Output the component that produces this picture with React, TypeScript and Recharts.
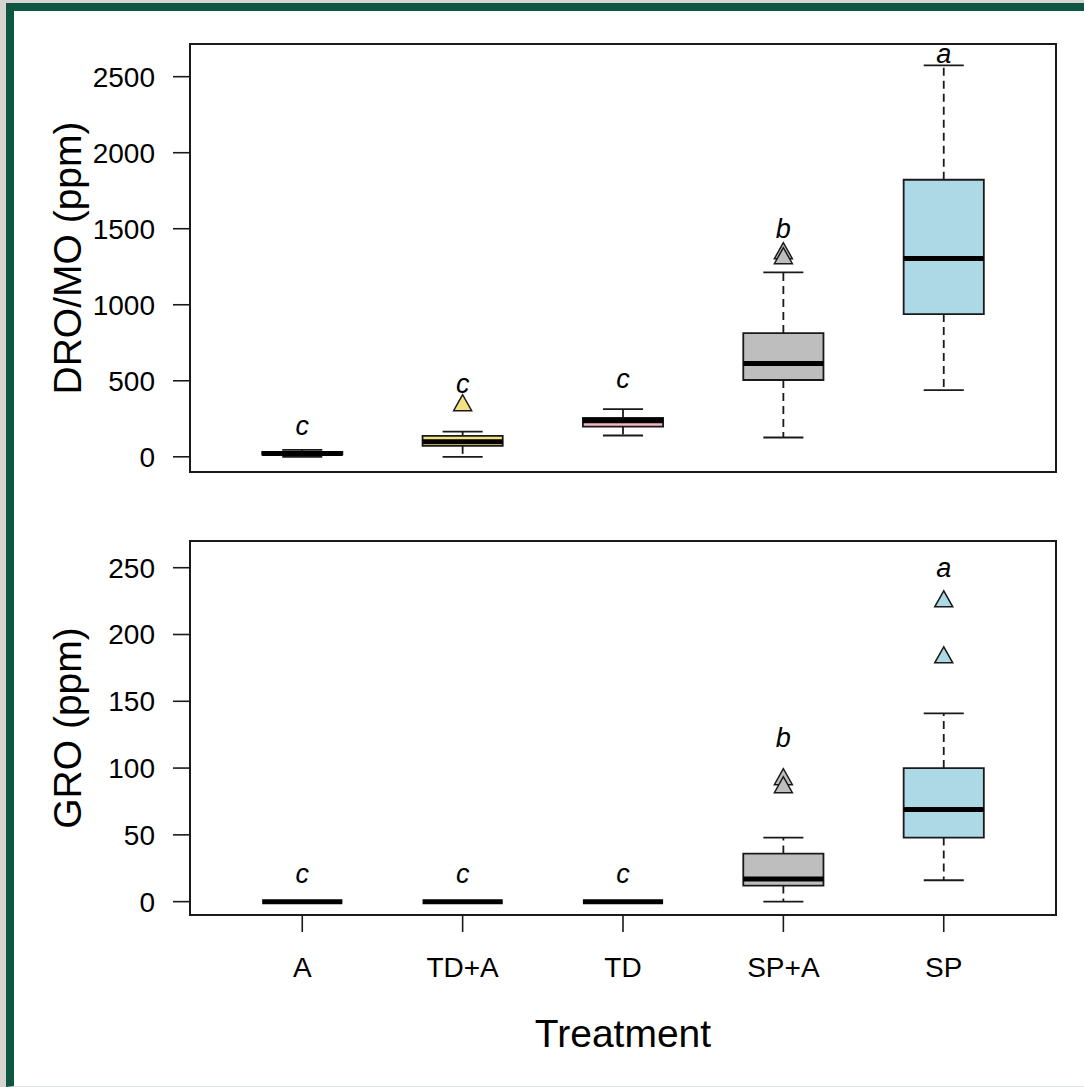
import {
  ComposedChart,
  XAxis,
  YAxis,
  Scatter,
  ReferenceArea,
  ReferenceLine,
} from "recharts";

// treatments, left to right
const categories = ["A", "TD+A", "TD", "SP+A", "SP"];

// DRO/MO (ppm) box statistics
const droMin = [0, 0, 140, 127, 439];
const droQ1 = [14, 72, 199, 505, 939];
const droMedian = [22, 99, 237, 614, 1305];
const droQ3 = [32, 138, 255, 814, 1822];
const droMax = [45, 166, 314, 1213, 2575];
const droOutlierGroups = ["TD+A", "SP+A", "SP+A"];
const droOutliers = [349, 1349, 1316];
const droLetters = ["c", "c", "c", "b", "a"];
const droLetterY = [145, 421, 454, 1441, 2590];

// GRO (ppm) box statistics
const groMin = [0, 0, 0, 0, 16];
const groQ1 = [0, 0, 0, 12, 48];
const groMedian = [0, 0, 0, 17, 69];
const groQ3 = [0, 0, 0, 36, 100];
const groMax = [0, 0, 0, 48, 141];
const groOutlierGroups = ["SP+A", "SP+A", "SP", "SP"];
const groOutliers = [92.8, 86.8, 226, 184];
const groLetters = ["c", "c", "c", "b", "a"];
const groLetterY = [14, 14, 14, 116, 243];

// box fill for each treatment
const FILLS: Record<string, string> = {
  A: "#B5D99C",
  "TD+A": "#F3E183",
  TD: "#F4B6C2",
  "SP+A": "#BEBEBE",
  SP: "#ADD8E6",
};

const FONT = "'Liberation Sans', Arial, sans-serif";
const INK = "#1a1a1a";
const BOX_HALF = 0.25;
const CAP_HALF = 0.125;

type Stats = {
  min: number[];
  q1: number[];
  median: number[];
  q3: number[];
  max: number[];
};

const TriangleDot = (props: any) => {
  const { cx, cy, payload } = props;
  if (cx == null || cy == null) return null;
  const pts = `${cx},${cy - 9} ${cx - 9},${cy + 7} ${cx + 9},${cy + 7}`;
  return (
    <polygon
      points={pts}
      fill={FILLS[payload.cat]}
      stroke={INK}
      strokeWidth={1.5}
    />
  );
};

const LetterDot = (props: any) => {
  const { cx, cy, payload } = props;
  if (cx == null || cy == null) return null;
  return (
    <text
      x={cx}
      y={cy}
      textAnchor="middle"
      fontSize={27}
      fontStyle="italic"
      fontFamily={FONT}
      fill="#000"
    >
      {payload.label}
    </text>
  );
};

type PanelProps = {
  height: number;
  margin: { top: number; right: number; bottom: number; left: number };
  yDomain: [number, number];
  yTicks: number[];
  yLabel: string;
  stats: Stats;
  outlierGroups: string[];
  outliers: number[];
  letters: string[];
  letterY: number[];
  showXAxis: boolean;
};

const BoxPanel = ({
  height,
  margin,
  yDomain,
  yTicks,
  yLabel,
  stats,
  outlierGroups,
  outliers,
  letters,
  letterY,
  showXAxis,
}: PanelProps) => {
  const outlierData = outliers.map((v, i) => ({
    x: categories.indexOf(outlierGroups[i]) + 1,
    y: v,
    cat: outlierGroups[i],
  }));
  const letterData = letters.map((l, i) => ({
    x: i + 1,
    y: letterY[i],
    label: l,
  }));

  return (
    <ComposedChart width={1084} height={height} margin={margin}>
      <XAxis
        type="number"
        dataKey="x"
        domain={[0.3, 5.7]}
        ticks={[1, 2, 3, 4, 5]}
        interval={0}
        allowDataOverflow
        hide={!showXAxis}
        height={140}
        axisLine={false}
        tickLine={{ stroke: INK, strokeWidth: 1.6 }}
        tickSize={17}
        tickMargin={25}
        tick={{ fontSize: 28, fill: "#000", fontFamily: FONT }}
        tickFormatter={(v: number) => categories[v - 1] ?? ""}
        label={{
          value: "Treatment",
          position: "insideBottom",
          offset: 8,
          style: { fontSize: 39, fill: "#000", fontFamily: FONT },
        }}
      />
      <YAxis
        type="number"
        dataKey="y"
        domain={yDomain}
        ticks={yTicks}
        interval={0}
        allowDataOverflow
        width={120}
        axisLine={false}
        tickLine={{ stroke: INK, strokeWidth: 1.6 }}
        tickSize={17}
        tickMargin={18}
        tick={{ fontSize: 28, fill: "#000", fontFamily: FONT }}
        label={{
          value: yLabel,
          angle: -90,
          position: "insideLeft",
          offset: -3,
          style: {
            textAnchor: "middle",
            fontSize: 39,
            fill: "#000",
            fontFamily: FONT,
          },
        }}
      />

      {/* plot frame */}
      <ReferenceArea
        x1={0.3}
        x2={5.7}
        y1={yDomain[0]}
        y2={yDomain[1]}
        fill="none"
        fillOpacity={0}
        stroke={INK}
        strokeWidth={2}
      />

      {categories.map((c, i) => (
        <ReferenceArea
          key={`box-${c}`}
          x1={i + 1 - BOX_HALF}
          x2={i + 1 + BOX_HALF}
          y1={stats.q1[i]}
          y2={stats.q3[i]}
          fill={FILLS[c]}
          fillOpacity={1}
          stroke={INK}
          strokeWidth={1.8}
        />
      ))}

      {categories.map((c, i) => [
        <ReferenceLine
          key={`uw-${c}`}
          segment={[
            { x: i + 1, y: stats.q3[i] },
            { x: i + 1, y: stats.max[i] },
          ]}
          stroke={INK}
          strokeWidth={1.8}
          strokeDasharray="8 5"
        />,
        <ReferenceLine
          key={`lw-${c}`}
          segment={[
            { x: i + 1, y: stats.q1[i] },
            { x: i + 1, y: stats.min[i] },
          ]}
          stroke={INK}
          strokeWidth={1.8}
          strokeDasharray="8 5"
        />,
        <ReferenceLine
          key={`uc-${c}`}
          segment={[
            { x: i + 1 - CAP_HALF, y: stats.max[i] },
            { x: i + 1 + CAP_HALF, y: stats.max[i] },
          ]}
          stroke={INK}
          strokeWidth={1.8}
        />,
        <ReferenceLine
          key={`lc-${c}`}
          segment={[
            { x: i + 1 - CAP_HALF, y: stats.min[i] },
            { x: i + 1 + CAP_HALF, y: stats.min[i] },
          ]}
          stroke={INK}
          strokeWidth={1.8}
        />,
        <ReferenceLine
          key={`md-${c}`}
          segment={[
            { x: i + 1 - BOX_HALF, y: stats.median[i] },
            { x: i + 1 + BOX_HALF, y: stats.median[i] },
          ]}
          stroke="#000"
          strokeWidth={5}
        />,
      ])}

      <Scatter
        data={outlierData}
        shape={TriangleDot}
        isAnimationActive={false}
      />
      <Scatter data={letterData} shape={LetterDot} isAnimationActive={false} />
    </ComposedChart>
  );
};

export default function App() {
  return (
    <div
      style={{
        position: "absolute",
        left: 0,
        top: 0,
        width: 1084,
        height: 1087,
        background: "#D6D3D0",
        fontFamily: FONT,
        overflow: "hidden",
      }}
    >
      <div
        style={{
          position: "absolute",
          left: 6,
          top: 3,
          width: 1078,
          height: 1084,
          boxSizing: "border-box",
          background: "#fff",
          borderLeft: "8px solid #0E5641",
          borderTop: "8px solid #0E5641",
          borderBottom: "1px solid #DCE3E0",
        }}
      />
      <div style={{ position: "absolute", left: 0, top: 0 }}>
        <BoxPanel
          height={480}
          margin={{ top: 44, right: 28, bottom: 8, left: 70 }}
          yDomain={[-100, 2715]}
          yTicks={[0, 500, 1000, 1500, 2000, 2500]}
          yLabel="DRO/MO (ppm)"
          stats={{
            min: droMin,
            q1: droQ1,
            median: droMedian,
            q3: droQ3,
            max: droMax,
          }}
          outlierGroups={droOutlierGroups}
          outliers={droOutliers}
          letters={droLetters}
          letterY={droLetterY}
          showXAxis={false}
        />
      </div>
      <div style={{ position: "absolute", left: 0, top: 500 }}>
        <BoxPanel
          height={587}
          margin={{ top: 41, right: 28, bottom: 32, left: 70 }}
          yDomain={[-10, 270]}
          yTicks={[0, 50, 100, 150, 200, 250]}
          yLabel="GRO (ppm)"
          stats={{
            min: groMin,
            q1: groQ1,
            median: groMedian,
            q3: groQ3,
            max: groMax,
          }}
          outlierGroups={groOutlierGroups}
          outliers={groOutliers}
          letters={groLetters}
          letterY={groLetterY}
          showXAxis={true}
        />
      </div>
    </div>
  );
}
